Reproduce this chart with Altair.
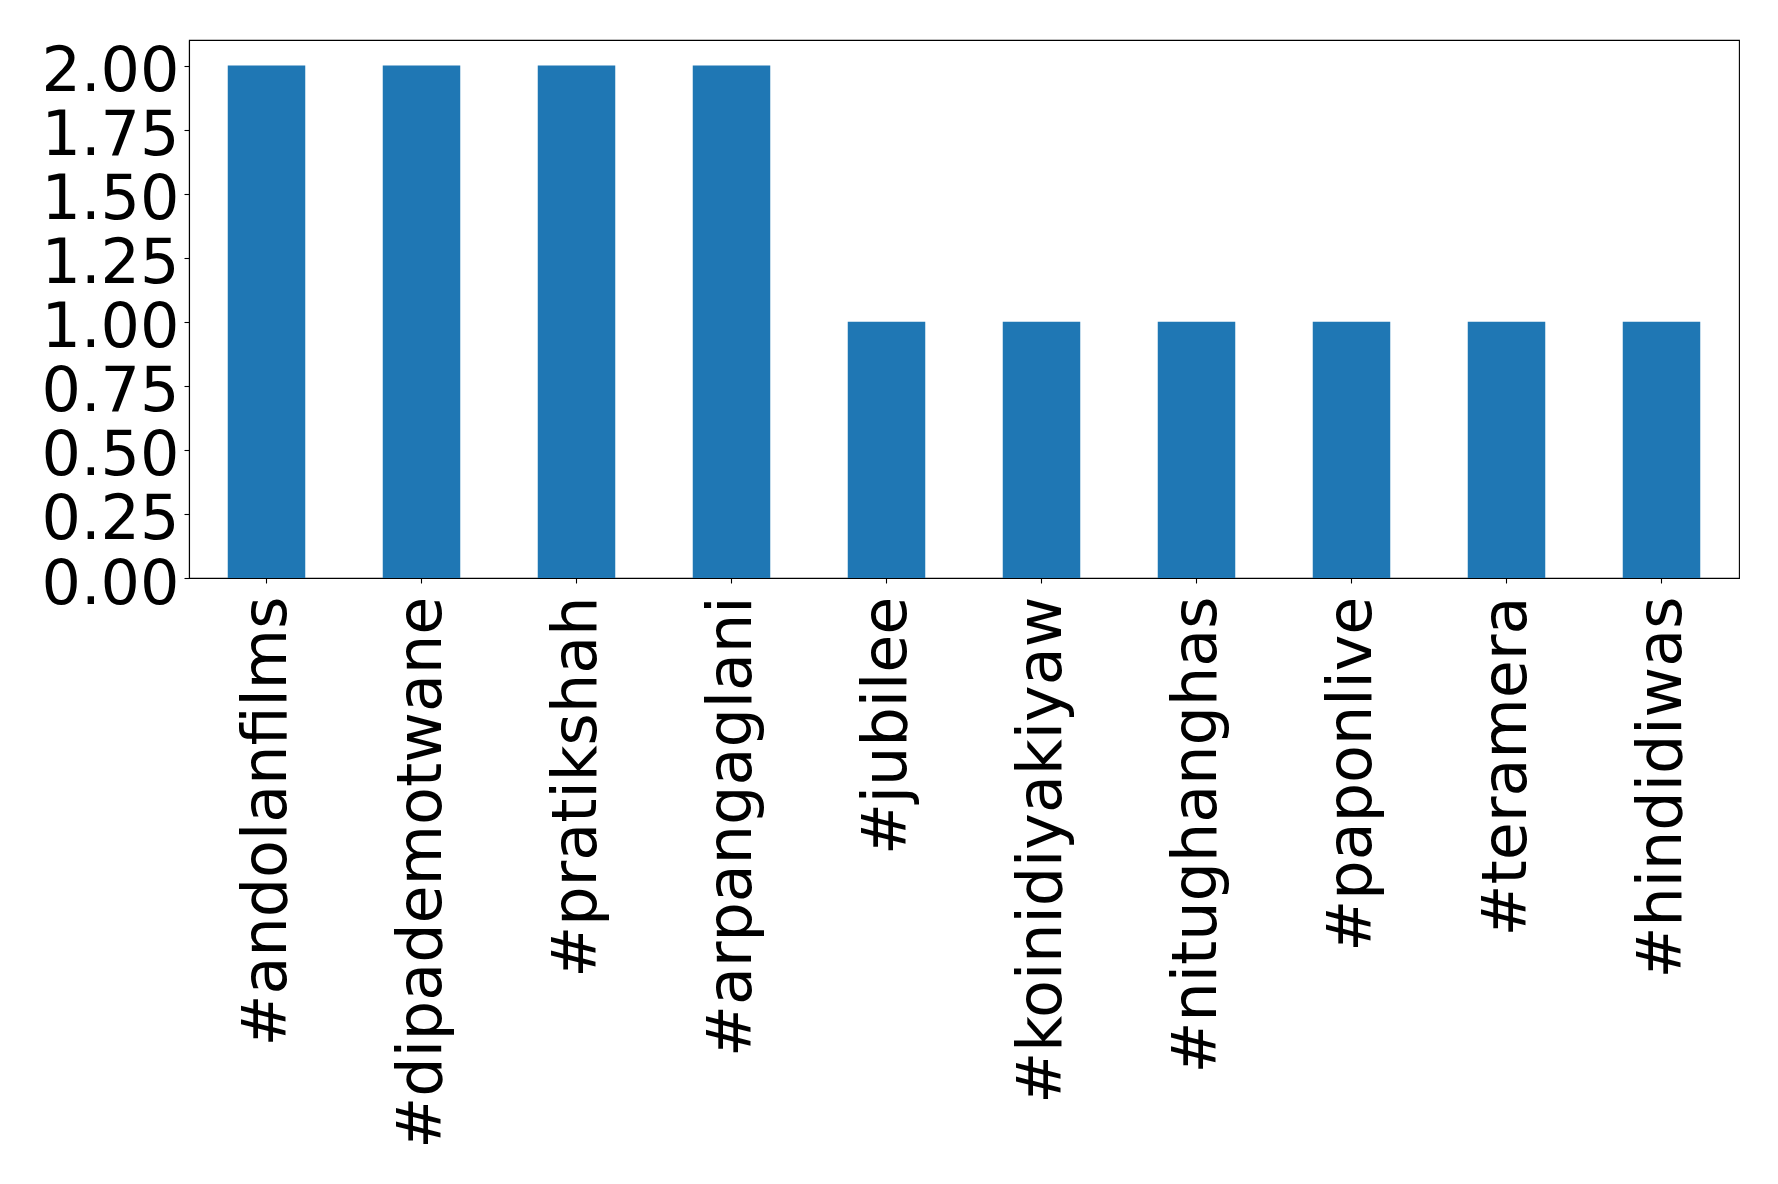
import altair as alt
import pandas as pd

tags = ["#andolanfilms", "#dipademotwane", "#pratikshah", "#arpangaglani", "#jubilee",
        "#koinidiyakiyaw", "#nitughanghas", "#paponlive", "#teramera", "#hindidiwas"]
counts = [2, 2, 2, 2, 1, 1, 1, 1, 1, 1]
y_ticks = [0, 0.25, 0.5, 0.75, 1.0, 1.25, 1.5, 1.75, 2.0]

df = pd.DataFrame({"tag": tags, "count": counts})

FONT = "DejaVu Sans"

chart = alt.Chart(df).mark_bar(color="#1f77b4").encode(
    x=alt.X("tag:N", sort=None,
            scale=alt.Scale(paddingInner=0.5, paddingOuter=0.25),
            axis=alt.Axis(title=None, labelAngle=270, labelFont=FONT, labelFontSize=62,
                          labelColor="black", labelLimit=0, labelPadding=13,
                          tickSize=5, tickColor="black", tickWidth=1.1,
                          domainColor="black", domainWidth=1.1)),
    y=alt.Y("count:Q",
            scale=alt.Scale(domain=[0, 2.1], nice=False, zero=True),
            axis=alt.Axis(title=None, values=y_ticks, format=".2f", labelFont=FONT,
                          labelFontSize=62, labelColor="black", labelPadding=5,
                          tickSize=5, tickColor="black", tickWidth=1.1,
                          domainColor="black", domainWidth=1.1, grid=False,
                          labelBaseline="alphabetic", labelOffset=25)),
).properties(
    width=1550,
    height=538,
    autosize=alt.AutoSizeParams(type="none"),
    padding={"left": 181, "top": 32, "right": 20, "bottom": 580},
).configure_view(
    stroke="black", strokeWidth=1.1
)

chart.save("out.html", embed_options={"renderer": "svg", "actions": False})
